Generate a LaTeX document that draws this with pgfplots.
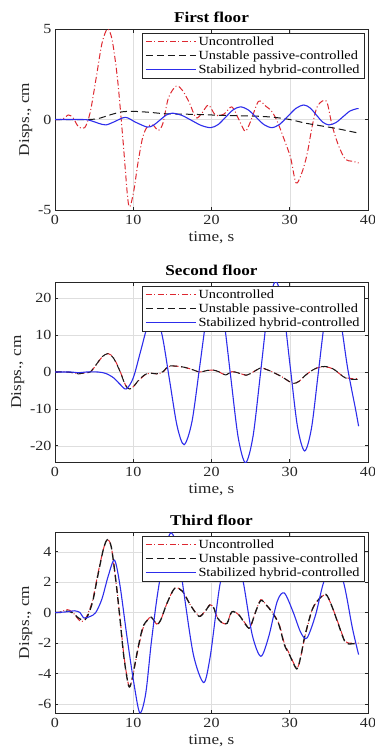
\documentclass[border=0pt]{standalone}
\usepackage{fontspec}
\setmainfont{Liberation Serif}[FakeStretch=1.15]
\usepackage{pgfplots}
\pgfplotsset{compat=1.18}
\definecolor{ured}{RGB}{222,40,48}
\definecolor{ublue}{RGB}{45,45,235}
\definecolor{axgray}{RGB}{38,38,38}
\tikzset{
  unc/.style={color=ured, line width=1bp, dash pattern=on 6bp off 2.5bp on 1bp off 2.5bp},
  pas/.style={color=black!90, line width=1bp, dash pattern=on 7bp off 4bp},
  pasthick/.style={color=black!90, line width=1.3bp, dash pattern=on 7bp off 4bp},
  hyb/.style={color=ublue, line width=1.1bp, solid},
}
\pgfplotsset{
  mylegend/.style={
    legend style={at={(0.99,0.98)}, anchor=north east,
      font=\fontsize{12.5}{15}\selectfont, draw=axgray, fill=white,
      inner xsep=3bp, inner ysep=1.5bp, row sep=0bp, line width=0.6bp},
    legend cell align=left,
    legend image code/.code={\draw[##1] (0bp,0bp) -- (50bp,0bp);},
  },
  myaxis/.style={
    scale only axis, width=313bp,
    xmin=0, xmax=40, xtick={0,10,20,30,40},
    grid=major, major grid style={draw=black!13, line width=0.5bp},
    axis line style={draw=axgray, line width=0.6bp},
    tick style={draw=axgray, line width=0.6bp},
    tick align=inside, major tick length=3.5bp,
    ticklabel style={font=\fontsize{14}{14}\selectfont, text=axgray},
    xticklabel style={yshift=-2bp},
    label style={font=\fontsize{15}{15}\selectfont, text=axgray},
    title style={font=\bfseries\fontsize{15}{15}\selectfont, yshift=-3bp},
    xlabel={time, s}, ylabel={Disps., cm},
    ylabel style={yshift=-1bp},
    mylegend,
    /pgf/number format/assume math mode=true,
  }
}
\begin{document}
\begin{tikzpicture}
\useasboundingbox (0,0) rectangle (375bp,-755bp);
% ---------- First floor (legend added by the overlay at the end) ----------
\begin{axis}[myaxis, at={(55bp,-29bp)}, anchor=north west, height=181bp,
  ymin=-5, ymax=5, ytick={-5,0,5}, title={First floor}]
\addplot[unc, smooth, tension=0.5] coordinates {(0,0)(1,0.02)(1.7,0.25)(2.3,0.1)(3,-0.4)(3.8,-0.45)(4.5,0.4)(5.3,2.4)(6,4.2)(6.7,5.0)(7.3,4.4)(8,2.2)(8.7,-1.2)(9.4,-4.7)(10,-4.1)(10.6,-2.4)(11.2,-1.0)(11.8,-0.4)(12.5,-0.3)(13.2,-0.6)(13.8,-0.2)(14.5,1.2)(15.5,1.85)(16.3,1.6)(17.2,0.9)(18,0.1)(18.7,0.3)(19.6,0.8)(20.5,0.25)(21.6,0.3)(22.6,0.7)(23.5,0)(24.3,-0.65)(25,-0.1)(26,1.0)(26.9,0.75)(27.7,0.45)(28.4,-0.1)(29.2,-1.0)(30.1,-2.1)(30.8,-3.5)(31.5,-3.0)(32.2,-1.95)(32.9,-0.3)(33.5,0.7)(34.3,1.05)(34.8,0.9)(35.4,-0.3)(36.2,-1.4)(37.1,-2.2)(38,-2.3)(38.8,-2.4)};
\addplot[pas, smooth, tension=0.5] coordinates {(0,0)(4,0)(5.5,0.05)(7,0.25)(8.5,0.42)(10,0.45)(12,0.4)(14,0.32)(16,0.3)(18,0.28)(20,0.25)(22,0.22)(24,0.2)(26,0.18)(28,0.12)(30,0)(32,-0.2)(34,-0.35)(36,-0.5)(38,-0.68)(38.8,-0.75)};
\addplot[hyb, smooth, tension=0.5] coordinates {(0,0)(3.5,0)(4.5,-0.05)(5.5,-0.2)(6.5,-0.3)(7.6,-0.12)(9.0,0.12)(10.3,-0.15)(11.8,-0.42)(12.6,-0.31)(13.4,-0.035)(14.2,0.24)(15,0.35)(16.2,0.23)(17.45,-0.05)(18.7,-0.33)(19.9,-0.45)(20.85,-0.28)(21.8,0.125)(22.75,0.53)(23.7,0.7)(24.7,0.53)(25.7,0.125)(26.7,-0.28)(27.7,-0.45)(28.7,-0.27)(29.75,0.175)(30.8,0.62)(31.8,0.8)(32.6,0.64)(33.4,0.25)(34.2,-0.14)(35,-0.3)(35.9,-0.17)(36.8,0.15)(37.7,0.47)(38.6,0.6)(38.8,0.6)};
\end{axis}
% ---------- Second floor ----------
\begin{axis}[myaxis, at={(55bp,-282bp)}, anchor=north west, height=180bp,
  ymin=-24.4, ymax=24.4, ytick={-20,-10,0,10,20}, title={Second floor}]
\addplot[unc, smooth, tension=0.5] coordinates {(0,0)(1.5,0)(2.3,-0.2)(3,-0.5)(3.8,-0.2)(4.5,0)(5.3,2.0)(6,4.0)(6.8,5.0)(7.5,3.8)(8.3,0.3)(9,-3.5)(9.5,-4.6)(10,-4.0)(10.7,-2.3)(11.5,-0.8)(12.2,-0.3)(13,-0.5)(13.8,0)(14.5,1.5)(15.4,1.6)(16.5,1.3)(17.5,0.7)(18.5,0)(19.4,0.4)(20.3,0.5)(21,0)(21.8,-0.8)(22.6,0.1)(23.5,-0.3)(24.5,-0.85)(25.4,0.1)(26.3,1.1)(27,0.7)(27.8,0)(29,-1.3)(29.8,-2.4)(30.5,-3.1)(31.2,-2.5)(32,-0.9)(32.9,0.5)(33.7,1.25)(34.5,1.4)(35.1,1.2)(35.8,0.45)(36.5,-0.7)(37.1,-1.5)(38,-1.8)(38.8,-1.8)};
\addlegendentry{Uncontrolled}
\addplot[pas, smooth, tension=0.5] coordinates {(0,0)(1.5,0)(2.3,-0.2)(3,-0.5)(3.8,-0.2)(4.5,0)(5.3,2.1)(6,4.1)(6.8,5.0)(7.5,3.7)(8.3,0.2)(9,-3.6)(9.5,-4.6)(10,-4.0)(10.7,-2.2)(11.5,-0.7)(12.2,-0.3)(13,-0.5)(13.8,0.1)(14.5,1.6)(15.4,1.6)(16.5,1.3)(17.5,0.7)(18.5,0)(19.4,0.4)(20.3,0.5)(21,0)(21.8,-0.8)(22.6,0.1)(23.5,-0.3)(24.5,-0.85)(25.4,0.1)(26.3,1.1)(27,0.7)(27.8,0)(29,-1.3)(29.8,-2.4)(30.5,-3.1)(31.2,-2.5)(32,-0.9)(32.9,0.5)(33.7,1.3)(34.5,1.5)(35.1,1.3)(35.8,0.5)(36.5,-0.7)(37.1,-1.6)(38,-2.0)(38.8,-2.0)};
\addlegendentry{Unstable passive-controlled}
\addplot[hyb, smooth, tension=0.5] coordinates {(0,0)(2,0)(3,-0.2)(4,0)(5.5,0)(6.5,-0.4)(7.5,-1.6)(8.3,-3.3)(9.1,-4.6)(10.0,-1.6)(10.95,5.7)(11.9,13)(12.8,15.5)(13.7,9.9)(14.65,-2.35)(15.6,-14.6)(16.5,-19.7)(17.5,-13.5)(18.5,1.6)(19.5,16.7)(20.5,22.9)(21.46,15.9)(22.43,-0.85)(23.4,-17.6)(24.35,-24.6)(25.31,-17.4)(26.28,0)(27.24,17.4)(28.2,24.6)(29.13,17.9)(30.05,1.6)(30.98,-14.7)(31.9,-21.4)(32.78,-15.2)(33.65,-0.2)(34.53,14.8)(35.4,21)(36.4,15)(37.4,1)(38.4,-10)(38.8,-14.7)};
\addlegendentry{Stabilized hybrid-controlled}
\end{axis}
% ---------- Third floor ----------
\begin{axis}[myaxis, at={(55bp,-532bp)}, anchor=north west, height=181bp,
  ymin=-6.6, ymax=5.3, ytick={-6,-4,-2,0,2,4}, title={Third floor}]
\addplot[unc, smooth, tension=0.5] coordinates {(0,0)(0.8,0.05)(1.5,0.2)(2.2,0.05)(3,-0.45)(3.4,-0.6)(4,-0.3)(4.8,0.8)(5.5,2.6)(6.2,4.2)(6.7,4.8)(7.2,4.3)(7.8,2.0)(8.3,-0.3)(8.8,-2.8)(9.4,-4.75)(9.8,-4.5)(10.5,-2.7)(11.2,-1.1)(11.8,-0.5)(12.3,-0.3)(13,-0.75)(13.5,-0.5)(14.3,0.6)(15.3,1.6)(16.3,1.4)(17.3,0.5)(18.4,-0.2)(19.2,0.1)(19.8,0.52)(20.3,0.3)(20.7,-0.25)(21.4,-0.68)(22,-0.68)(22.6,0.08)(23.5,-0.15)(24.3,-0.7)(24.9,-1.0)(25.6,0)(26.3,0.85)(27,0.5)(27.7,0.08)(28.6,-0.7)(29.3,-2.0)(29.9,-2.65)(30.9,-3.64)(31.4,-2.9)(31.9,-1.67)(32.8,0.08)(33.5,0.74)(34.6,1.18)(35.4,0.4)(36.2,-0.7)(37.1,-1.9)(38,-2.0)(38.8,-2.0)};
\addlegendentry{Uncontrolled}
\addplot[pasthick, smooth, tension=0.5] coordinates {(0,0)(0.8,0.02)(1.5,0.1)(2.2,0.0)(3,-0.35)(3.6,-0.5)(4.1,-0.3)(4.8,0.7)(5.5,2.5)(6.2,4.2)(6.7,4.8)(7.2,4.3)(7.8,2.0)(8.3,-0.4)(8.8,-2.9)(9.4,-4.8)(9.8,-4.5)(10.5,-2.6)(11.2,-1.0)(11.8,-0.5)(12.3,-0.3)(13,-0.75)(13.5,-0.5)(14.3,0.6)(15.3,1.6)(16.3,1.4)(17.3,0.5)(18.4,-0.25)(19.2,0.1)(19.8,0.5)(20.3,0.3)(20.7,-0.3)(21.4,-0.7)(22,-0.7)(22.6,0.05)(23.5,-0.15)(24.3,-0.75)(24.9,-1.0)(25.6,0)(26.3,0.8)(27,0.5)(27.7,0.05)(28.6,-0.75)(29.3,-2.1)(29.9,-2.7)(30.9,-3.7)(31.4,-2.9)(31.9,-1.6)(32.8,0.1)(33.5,0.75)(34.6,1.2)(35.4,0.4)(36.2,-0.75)(37.1,-1.95)(38,-2.05)(38.8,-2.05)};
\addlegendentry{Unstable passive-controlled}
\addplot[hyb, smooth, tension=0.5] coordinates {(0,0)(1.5,0.05)(2.5,0.12)(3.2,0)(3.7,-0.35)(4.5,-0.25)(5.2,0)(6,0.9)(6.8,2.4)(7.6,3.45)(8.3,1.8)(9.2,-1.6)(10.1,-4.7)(10.85,-6.6)(11.6,-5.3)(12.3,-2.0)(13.1,1.2)(14.1,4.2)(14.85,5.25)(15.7,4.1)(16.5,1.2)(17.7,-2.8)(19.0,-4.6)(19.8,-3.0)(20.5,-0.3)(21.1,1.9)(21.9,3.6)(22.7,4.0)(23.4,3.3)(24.1,1.9)(25.2,-1.45)(26.3,-2.87)(27.3,-1.6)(28.4,0.74)(29.3,1.29)(30.4,0.08)(31.4,-1.3)(32.2,-1.67)(33.3,-0.15)(34.3,1.94)(35.6,3.6)(36.9,1.94)(38.0,-1.0)(38.8,-2.76)};
\addlegendentry{Stabilized hybrid-controlled}
\end{axis}
% ---------- legend of the first floor panel, drawn last on an overlay ----------
\begin{axis}[hide axis, scale only axis, width=313bp, height=181bp,
  at={(55bp,-29bp)}, anchor=north west, xmin=0, xmax=1, ymin=0, ymax=1,
  mylegend]
\addlegendimage{unc}
\addlegendentry{Uncontrolled}
\addlegendimage{pas}
\addlegendentry{Unstable passive-controlled}
\addlegendimage{hyb}
\addlegendentry{Stabilized hybrid-controlled}
\end{axis}
\end{tikzpicture}
\end{document}
